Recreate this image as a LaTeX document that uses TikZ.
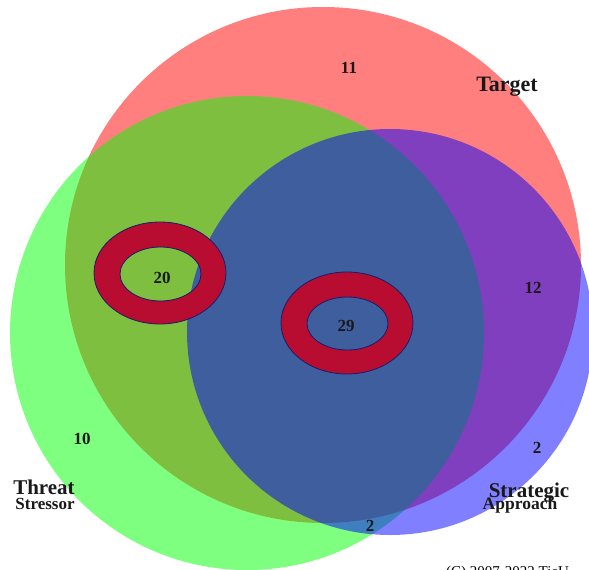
\documentclass[tikz,border=0pt]{standalone}
\usepackage{fontspec}
\setmainfont{Liberation Serif}
\usepackage{tikz}
\definecolor{ringred}{RGB}{184,12,48}
\definecolor{ringline}{RGB}{20,30,110}
\tikzstyle{setdisc} = [circle, draw=none, fill opacity=0.5, inner sep=0pt]
\tikzstyle{ring} = [fill=ringred, draw=ringline, line width=0.8pt, even odd rule]
\tikzstyle{num} = [font=\bfseries\fontsize{17}{17}\selectfont, text=black!90, inner sep=0pt]
\tikzstyle{lbl} = [font=\bfseries\fontsize{21}{21}\selectfont, text=black!90, inner sep=0pt]
\tikzstyle{sublbl} = [font=\bfseries\fontsize{17}{17}\selectfont, text=black!90, inner sep=0pt]

\begin{document}
\begin{tikzpicture}[x=1pt, y=-1pt]
        \useasboundingbox (0, 0) rectangle (589, 570);

        % the three sets
        \node [setdisc, fill=red, minimum size=516pt] (target) at (323, 265) {};
        \node [setdisc, fill=green, minimum size=474pt] (threat) at (247, 333) {};
        \node [setdisc, fill=blue, minimum size=406pt] (strat) at (390, 332) {};

        % rings
        \filldraw [ring] (160, 273) ellipse [x radius=66, y radius=51]
            (160.5, 274) ellipse [x radius=40.5, y radius=27];
        \filldraw [ring] (347, 323) ellipse [x radius=66, y radius=51]
            (347.5, 323.5) ellipse [x radius=40.5, y radius=26.5];

        % counts
        \node [num] (n11) at (349, 68) {11};
        \node [num] (n12) at (533, 288) {12};
        \node [num] (n20) at (162, 278) {20};
        \node [num] (n29) at (346, 326) {29};
        \node [num] (n10) at (82, 439) {10};
        \node [num] (n2a) at (537, 448) {2};
        \node [num] (n2b) at (370, 526) {2};

        % set labels
        \node [lbl, font=\bfseries\fontsize{22}{22}\selectfont] (ltarget) at (507, 87) {Target};
        \node [lbl] (lthreat) at (44, 487) {Threat};
        \node [sublbl] (lstress) at (45, 504) {Stressor};
        \node [lbl] (lstrat) at (529, 493) {Strategic};
        \node [sublbl, font=\bfseries\fontsize{17.5}{17.5}\selectfont] (lappr) at (520, 505) {Approach};

        \node [anchor=base west, font=\fontsize{15}{15}\selectfont, inner sep=0pt] (copy) at (446, 576) {(C) 2007-2022 TieU};
    \end{tikzpicture}
\end{document}
